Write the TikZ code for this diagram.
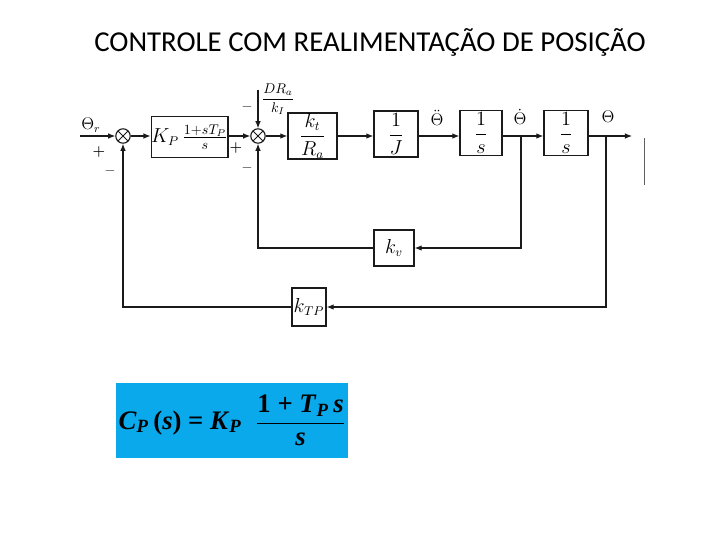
\documentclass[tikz,border=0pt]{standalone}
\usepackage{fontspec}
\usepackage{amsmath}
\usetikzlibrary{arrows.meta,positioning,calc}
\newfontfamily\titlefont{Carlito}
\newfontfamily\eqfont{Liberation Serif}
\definecolor{ink}{HTML}{1A1A1A}
\definecolor{eqcyan}{HTML}{0AA9EC}
\tikzset{
  tfblock/.style={
    rectangle, draw=ink, line width=1pt,
    font=\fontsize{13.5}{16}\selectfont, inner sep=0pt
  },
  sumnode/.style={
    circle, draw=ink, line width=0.8pt, minimum size=0.36cm, inner sep=0pt,
    path picture={\draw[line width=0.6pt]
      (path picture bounding box.north west) -- (path picture bounding box.south east)
      (path picture bounding box.north east) -- (path picture bounding box.south west);}
  },
  sigarrow/.style={
    -{Latex[length=5pt,width=4pt]}, line width=0.8pt, color=#1
  },
  sigarrow/.default=ink,
  signlabel/.style={
    font=\normalsize\bfseries, color=ink, inner sep=1pt
  },
  siglabel/.style={
    font=\large, inner sep=1pt
  },
}

\begin{document}
\begin{tikzpicture}[x=0.025cm, y=-0.025cm]
  \useasboundingbox (0,0) rectangle (720,540);

  % Title
  \node[font=\titlefont\fontsize{20.5}{24}\selectfont] (title) at (370,42)
    {CONTROLE COM REALIMENTAÇÃO DE POSIÇÃO};

  % Forward path
  \coordinate (thref) at (80,136);
  \node[sumnode] (sumA) at (123,136) {};
  \node[tfblock, minimum width=1.875cm, minimum height=1.025cm] (ctrl) at (189.5,137)
    {$K_P\,\frac{\mbox{\normalsize$1{+}sT_P$}}{\mbox{\normalsize$s$}}$};
  \node[sumnode] (sumB) at (258,136) {};
  \node[tfblock, minimum width=1.225cm, minimum height=1.15cm] (motor) at (312.5,136)
    {$\dfrac{k_t}{R_a}$};
  \node[tfblock, minimum width=1.1cm, minimum height=1.15cm] (inertia) at (396,134)
    {$\dfrac{1}{J}$};
  \node[tfblock, minimum width=1.05cm, minimum height=1.125cm] (intA) at (481,133)
    {$\dfrac{1}{s}$};
  \node[tfblock, minimum width=1.1cm, minimum height=1.125cm] (intB) at (566,133)
    {$\dfrac{1}{s}$};
  \coordinate (vtap) at (521,136);
  \coordinate (ptap) at (606,136);
  \coordinate (thout) at (632,136);

  \draw[sigarrow] (thref) -- (sumA);
  \draw[sigarrow] (sumA) -- (sumA -| ctrl.west);
  \draw[sigarrow] (sumB -| ctrl.east) -- (sumB);
  \draw[sigarrow] (sumB) -- (sumB -| motor.west);
  \draw[sigarrow] (sumB -| motor.east) -- (sumB -| inertia.west);
  \draw[sigarrow] (sumB -| inertia.east) -- (sumB -| intA.west);
  \draw[sigarrow] (sumB -| intA.east) -- (sumB -| intB.west);
  \draw[sigarrow] (sumB -| intB.east) -- (thout);

  % Disturbance
  \coordinate (dist) at (258,90);
  \draw[sigarrow] (dist) -- (sumB);
  \node[font=\normalsize] (distlbl) at (278,99) {$\dfrac{DR_a}{k_I}$};

  % Feedback loops
  \node[tfblock, minimum width=1cm, minimum height=0.9cm] (kv) at (394,248) {$k_v$};
  \node[tfblock, minimum width=0.85cm, minimum height=0.95cm] (ktp) at (309,307) {$k_{TP}$};
  \draw[sigarrow] (vtap) |- (kv);
  \draw[sigarrow] (kv) -| (sumB);
  \draw[sigarrow] (ptap) |- (ktp);
  \draw[sigarrow] (ktp) -| (sumA);

  % Signal labels
  \node[siglabel] (thrlbl) at (91,125) {$\Theta_r$};
  \node[siglabel] (accl) at (437,118) {$\ddot{\Theta}$};
  \node[siglabel] (vell) at (520,117) {$\dot{\Theta}$};
  \node[siglabel] (posl) at (608,117) {$\Theta$};
  \node[signlabel] (plusA) at (99,152) {+};
  \node[signlabel] (minusA) at (110,171) {$-$};
  \node[signlabel] (plusB) at (236,148) {+};
  \node[signlabel] (minusBt) at (247,107) {$-$};
  \node[signlabel] (minusBb) at (247,168) {$-$};

  % Scan mark
  \draw[ink!70, line width=0.6pt] (644,138) -- (644,185);

  % Controller equation
  \node[fill=eqcyan, minimum width=5.8cm, minimum height=1.875cm, inner sep=0pt] (eqbox) at (232,420.5) {};
  \node[font=\eqfont\bfseries\fontsize{19}{22}\selectfont] (eqtext) at (eqbox)
    {\textit{C}\textsubscript{\textit{P}}\,(\textit{s}) = \textit{K}\textsubscript{\textit{P}}\;
     $\dfrac{\hbox{1 + \textit{T}\textsubscript{\textit{P}}\,\textit{s}}}{\hbox{\textit{s}}}$};
\end{tikzpicture}
\end{document}
